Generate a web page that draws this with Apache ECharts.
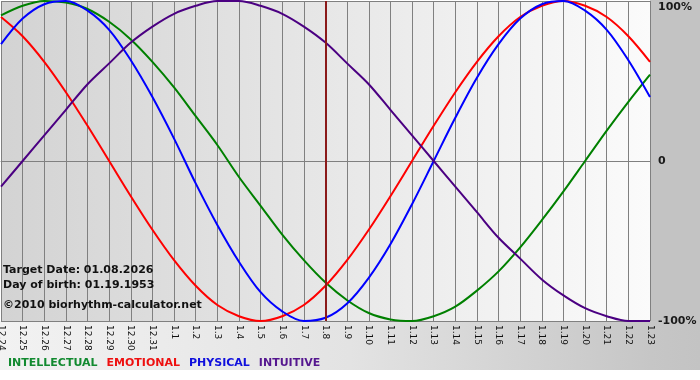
<!DOCTYPE html>
<html>
<head>
<meta charset="utf-8">
<script src="https://cdn.jsdelivr.net/npm/echarts@6/dist/echarts.min.js"></script>
<style>html,body{margin:0;padding:0;background:#fff}#c{width:700px;height:380px}</style>
</head>
<body>
<div id="c"></div>
<script>
var days = ['12.24','12.25','12.26','12.27','12.28','12.29','12.30','12.31','1.1','1.2','1.3','1.4','1.5','1.6','1.7','1.8','1.9','1.10','1.11','1.12','1.13','1.14','1.15','1.16','1.17','1.18','1.19','1.20','1.21','1.22','1.23'];
var intellectual = [91,97,100,99,95,87,76,62,46,28,10,-10,-28,-46,-62,-76,-87,-95,-99,-100,-97,-91,-81,-69,-54,-37,-19,0,19,37,54];
var emotional = [90,78,62,43,22,0,-22,-43,-62,-78,-90,-97,-100,-97,-90,-78,-62,-43,-22,0,22,43,62,78,90,97,100,97,90,78,62];
var physical = [73,89,98,100,94,82,63,40,14,-14,-40,-63,-82,-94,-100,-98,-89,-73,-52,-27,0,27,52,73,89,98,100,94,82,63,40];
var intuitive = [-16,0,16,32,48,61,74,84,92,97,100,100,97,92,84,74,61,48,32,16,0,-16,-32,-48,-61,-74,-84,-92,-97,-100,-100];
var yTicks = [-100, 0, 100];
var targetDay = '1.8';
var infoLines = ['Target Date: 01.08.2026', 'Day of birth: 01.19.1953', '\u00a92010 biorhythm-calculator.net'];

var FONT = '"DejaVu Sans", Verdana, sans-serif';
var chart = echarts.init(document.getElementById('c'), null, {renderer: 'canvas'});

function line(name, data, color) {
  return {
    name: name, type: 'line', data: data, smooth: 0.33, symbol: 'none',
    lineStyle: {color: color, width: 2}, itemStyle: {color: color}, z: 3
  };
}

var series = [
  line('INTELLECTUAL', intellectual, '#008000'),
  line('EMOTIONAL', emotional, '#ff0000'),
  line('PHYSICAL', physical, '#0000ff'),
  line('INTUITIVE', intuitive, '#4b0082')
];
series[0].markLine = {
  silent: true, symbol: ['none', 'none'], label: {show: false},
  lineStyle: {color: '#8b1a1a', width: 2, type: 'solid'},
  data: [{xAxis: targetDay}]
};

var option = {
  animation: false,
  backgroundColor: '#ffffff',
  grid: {
    left: 1, right: 50, top: 1, bottom: 59, show: true, borderWidth: 0,
    containLabel: false, outerBoundsMode: 'none',
    backgroundColor: new echarts.graphic.LinearGradient(0, 0, 1, 0, [
      {offset: 0, color: '#d3d3d3'}, {offset: 0.5, color: '#e7e7e7'}, {offset: 1, color: '#fbfbfb'}
    ])
  },
  legend: {
    left: 3, top: 358, padding: 0, itemWidth: 0, itemHeight: 0, itemGap: 4, icon: 'rect',
    selectedMode: false,
    textStyle: {fontFamily: FONT, fontWeight: 'bold', fontSize: 11},
    data: [
      {name: 'INTELLECTUAL', textStyle: {color: '#128a30'}},
      {name: 'EMOTIONAL', textStyle: {color: '#ee1010'}},
      {name: 'PHYSICAL', textStyle: {color: '#1010dd'}},
      {name: 'INTUITIVE', textStyle: {color: '#55178f'}}
    ]
  },
  xAxis: {
    type: 'category', data: days, boundaryGap: false,
    axisLine: {show: true, lineStyle: {color: '#808080', width: 1}},
    axisTick: {show: true, length: 3, interval: 0, lineStyle: {color: '#808080'}},
    axisLabel: {interval: 0, rotate: -90, margin: 4, fontFamily: FONT, fontSize: 9, color: '#111'},
    splitLine: {show: true, interval: 0, lineStyle: {color: '#808080', width: 1}}
  },
  yAxis: {
    type: 'value', position: 'right', min: yTicks[0], max: yTicks[2], interval: 100,
    axisLine: {show: false}, axisTick: {show: false},
    splitLine: {show: true, lineStyle: {color: '#808080', width: 1}},
    axisLabel: {
      margin: 8, fontFamily: FONT, fontWeight: 'bold', fontSize: 11, color: '#1a1a1a', lineHeight: 12,
      formatter: function (v) {
        if (v === 100) return '\n100%';
        if (v === 0) return '0';
        return v + '%';
      }
    }
  },
  graphic: [
    {type: 'rect', z: -10, silent: true, shape: {x: 650, y: 0, width: 50, height: 321}, style: {fill: '#c3c3c3'}},
    {type: 'rect', z: -10, silent: true, shape: {x: 0, y: 321, width: 700, height: 49},
      style: {fill: new echarts.graphic.LinearGradient(0, 0, 1, 0, [
        {offset: 0, color: '#f2f2f2'}, {offset: 0.5, color: '#e3e3e3'}, {offset: 0.93, color: '#c6c6c6'}, {offset: 1, color: '#c3c3c3'}
      ])}},
    {type: 'text', z: 100, silent: true, left: 3, top: 265, style: {text: infoLines[0], font: 'bold 11px ' + FONT, fill: '#111'}},
    {type: 'text', z: 100, silent: true, left: 3, top: 280, style: {text: infoLines[1], font: 'bold 11px ' + FONT, fill: '#111'}},
    {type: 'text', z: 100, silent: true, left: 3, top: 300, style: {text: infoLines[2], font: 'bold 11px ' + FONT, fill: '#111'}}
  ],
  series: series
};
chart.setOption(option);
</script>
</body>
</html>
